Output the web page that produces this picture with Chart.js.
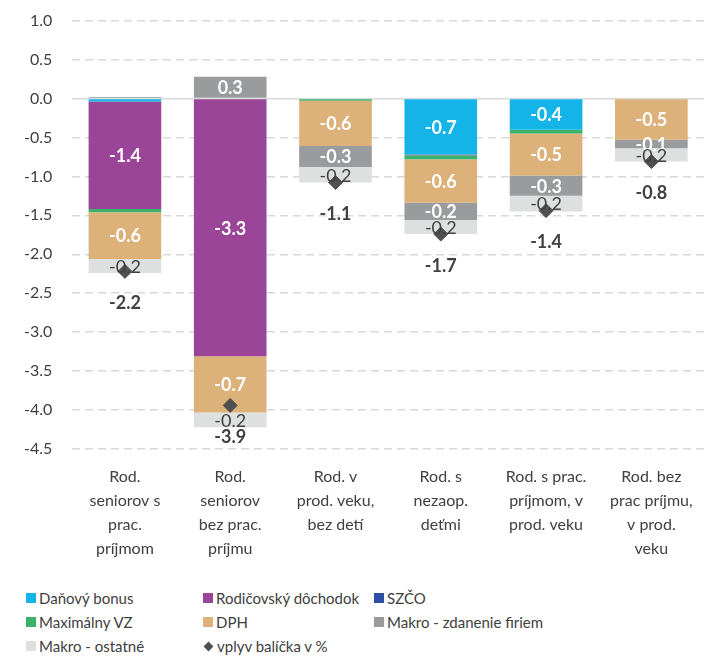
<!DOCTYPE html>
<html>
<head>
<meta charset="utf-8">
<script src="https://cdn.jsdelivr.net/npm/chart.js@4.4.1/dist/chart.umd.min.js"></script>
<style>
  body { margin: 0; background: #fff; font-family: Lato, sans-serif; }
  #wrap { position: relative; width: 712px; height: 657px; overflow: hidden; }
  #box { position: absolute; left: 0; top: -9px; width: 712px; height: 578px; }
  #legend { position: absolute; left: 26px; top: 586px; display: grid;
            grid-template-columns: 177px 171px 1fr; row-gap: 0; }
  .item { display: flex; align-items: center; height: 24px; font-size: 15px; color: #404040; white-space: nowrap; }
  .sw { width: 10px; height: 10px; margin-right: 3px; }
  .dia { width: 7px; height: 7px; margin: 0 5px 0 2px; transform: rotate(45deg); }
</style>
</head>
<body>
<div id="wrap">
  <div id="box"><canvas id="chart"></canvas></div>
  <div id="legend"></div>
</div>
<script>
// categories
const categories = [
    ['Rod.', 'seniorov s', 'prac.', 'príjmom'],
    ['Rod.', 'seniorov', 'bez prac.', 'príjmu'],
    ['Rod. v', 'prod. veku,', 'bez detí'],
    ['Rod. s', 'nezaop.', 'deťmi'],
    ['Rod. s prac.', 'príjmom, v', 'prod. veku'],
    ['Rod. bez', 'prac príjmu,', 'v prod.', 'veku']
];

// series values (% change)
const danovyBonus   = [-0.04,  0.00,  0.00, -0.72, -0.40,  0.00];
const rodicovsky    = [-1.38, -3.31,  0.00, -0.01,  0.00, -0.01];
const szco          = [ 0.00,  0.00,  0.00,  0.00,  0.00,  0.00];
const maximalnyVZ   = [-0.04,  0.00, -0.03, -0.05, -0.05,  0.00];
const dph           = [-0.60, -0.72, -0.58, -0.56, -0.54, -0.52];
const makroZdanenie = [ 0.02,  0.28, -0.27, -0.22, -0.26, -0.11];
const makroOstatne  = [-0.18, -0.19, -0.20, -0.18, -0.20, -0.17];
const vplyvBalicka  = [-2.22, -3.94, -1.08, -1.74, -1.44, -0.81];

const yTicks = { min: -4.5, max: 1.0, step: 0.5 };

const FONT = 'Lato, sans-serif';
const TEXT = '#404040';

const barSeries = [
    { label: 'Daňový bonus', data: danovyBonus, color: '#14b4e9', labelColor: '#fff', bold: true },
    { label: 'Rodičovský dôchodok', data: rodicovsky, color: '#9b4598', labelColor: '#fff', bold: true },
    { label: 'SZČO', data: szco, color: '#2f4fa6', labelColor: '#fff', bold: true },
    { label: 'Maximálny VZ', data: maximalnyVZ, color: '#3bb16b', labelColor: '#fff', bold: true },
    { label: 'DPH', data: dph, color: '#dcb17a', labelColor: '#fff', bold: true },
    { label: 'Makro - zdanenie firiem', data: makroZdanenie, color: '#9a9b9d', labelColor: '#fff', bold: true },
    { label: 'Makro - ostatné', data: makroOstatne, color: '#dedfdf', labelColor: '#404040', bold: false }
];

const datasets = barSeries.map(s => ({
    type: 'bar',
    label: s.label,
    data: s.data,
    backgroundColor: s.color,
    borderWidth: 0,
    barPercentage: 0.69,
    categoryPercentage: 1,
    order: 1,
    labelColor: s.labelColor,
    labelBold: s.bold
}));

datasets.push({
    type: 'line',
    label: 'vplyv balíčka v %',
    data: vplyvBalicka,
    showLine: false,
    stack: 'total',
    pointStyle: 'rectRot',
    pointRadius: 7,
    pointBackgroundColor: '#505050',
    pointBorderColor: '#505050',
    order: 0
});

// segment + total labels
const valueLabels = {
    id: 'valueLabels',
    afterDatasetsDraw(chart) {
        const ctx = chart.ctx;
        ctx.save();
        ctx.textAlign = 'center';
        ctx.textBaseline = 'middle';
        chart.data.datasets.forEach((ds, i) => {
            const meta = chart.getDatasetMeta(i);
            meta.data.forEach((el, j) => {
                const v = ds.data[j];
                if (ds.type === 'bar') {
                    if (Math.abs(v) < 0.08) return;   // tiny slices carry no label
                    const p = el.getProps(['x', 'y', 'base'], true);
                    ctx.fillStyle = ds.labelColor;
                    ctx.font = (ds.labelBold ? 'bold ' : '') + '18px ' + FONT;
                    ctx.fillText(v.toFixed(1), p.x, (p.y + p.base) / 2 + 1);
                } else {
                    ctx.fillStyle = TEXT;
                    ctx.font = 'bold 18px ' + FONT;
                    ctx.fillText(v.toFixed(1), el.x, el.y + 32);
                }
            });
        });
        ctx.restore();
    }
};

const chart = new Chart(document.getElementById('chart').getContext('2d'), {
    data: { labels: categories, datasets: datasets },
    options: {
        responsive: true,
        maintainAspectRatio: false,
        animation: false,
        layout: { padding: { top: 3, right: 8, left: 4, bottom: 0 } },
        plugins: {
            legend: { display: false },
            tooltip: { enabled: false }
        },
        scales: {
            x: {
                stacked: true,
                grid: { display: false },
                border: { display: false },
                ticks: { color: TEXT, font: { family: FONT, size: 16, lineHeight: 1.5 }, padding: 8, maxRotation: 0 }
            },
            y: {
                stacked: true,
                min: yTicks.min,
                max: yTicks.max,
                grid: {
                    color: '#d9d9d9',
                    lineWidth: 1.5,
                    drawTicks: false
                },
                border: {
                    display: false,
                    dash: ctx => (ctx.tick && ctx.tick.value === 0) ? [] : [8, 5]
                },
                ticks: {
                    stepSize: yTicks.step,
                    color: TEXT,
                    padding: 20,
                    font: { family: FONT, size: 16 },
                    callback: v => v.toFixed(1)
                }
            }
        }
    },
    plugins: [valueLabels]
});

// html legend in three columns
const legendEl = document.getElementById('legend');
chart.data.datasets.forEach(ds => {
    const item = document.createElement('div');
    item.className = 'item';
    const mark = document.createElement('span');
    if (ds.type === 'line') {
        mark.className = 'dia';
        mark.style.background = ds.pointBackgroundColor;
    } else {
        mark.className = 'sw';
        mark.style.background = ds.backgroundColor;
    }
    item.appendChild(mark);
    item.appendChild(document.createTextNode(ds.label));
    legendEl.appendChild(item);
});
</script>
</body>
</html>
